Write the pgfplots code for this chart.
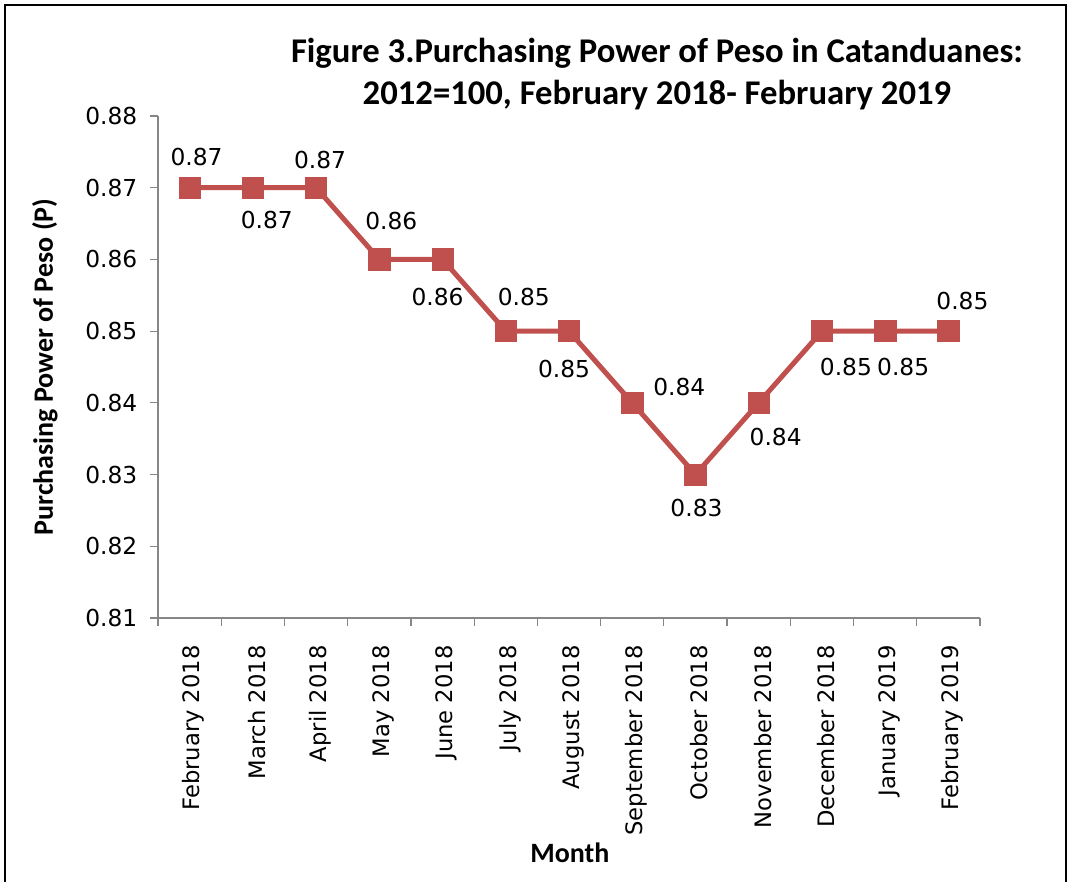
\documentclass[border=0pt]{standalone}
\usepackage{pgfplots}
\pgfplotsset{compat=1.18}
\usepackage{pgfplotstable}
\usepackage{fontspec}
\setmainfont{DejaVu Sans}
\newfontfamily\titlefont{Carlito}
\definecolor{pred}{HTML}{C0504D}
\definecolor{axgray}{HTML}{868686}

\pgfplotstableread{
x y lab dx dy
0 0.87 0.87 7 31
1 0.87 0.87 14 -32
2 0.87 0.87 4 28
3 0.86 0.86 12 38
4 0.86 0.86 -5 -38
5 0.85 0.85 18 34
6 0.85 0.85 -5 -38
7 0.84 0.84 47 16
8 0.83 0.83 1 -33
9 0.84 0.84 17 -34
10 0.85 0.85 24 -36
11 0.85 0.85 18 -36
12 0.85 0.85 14 30
}\data

\begin{document}
\begin{tikzpicture}
\useasboundingbox (0,0) rectangle (801.75pt,661.5pt);
\draw[black, line width=0.8pt] (3.75pt,0) -- (3.75pt,657.75pt) -- (799.5pt,657.75pt) -- (799.5pt,0);
\begin{axis}[
  at={(118.5pt,198pt)}, anchor=south west,
  scale only axis, width=616.5pt, height=376.5pt,
  clip=false,
  xmin=-0.5, xmax=12.5, ymin=0.81, ymax=0.88,
  axis x line*=bottom, axis y line*=left,
  axis line style={axgray, line width=0.9pt},
  xtick={0,...,12},
  xticklabels={February 2018,March 2018,April 2018,May 2018,June 2018,July 2018,August 2018,September 2018,October 2018,November 2018,December 2018,January 2019,February 2019},
  major x tick style={draw=none},
  minor xtick={-0.5,0.5,...,12.5},
  minor tick length=6pt,
  minor x tick style={axgray, line width=0.9pt},
  ytick={0.81,0.82,...,0.88},
  yticklabels={0.81,0.82,0.83,0.84,0.85,0.86,0.87,0.88},
  major tick length=6pt,
  tick align=outside,
  y tick style={axgray, line width=0.9pt},
  xticklabel style={rotate=90, anchor=east, font=\fontsize{17}{20}\selectfont, xshift=-11pt, yshift=-3pt},
  yticklabel style={font=\fontsize{17.5}{20}\selectfont, xshift=-6pt},
  xlabel={Month},
  xlabel style={at={(axis description cs:0.501,-0.468)}, anchor=center, font=\titlefont\bfseries\fontsize{21}{24}\selectfont},
  ylabel={Purchasing Power of Peso (P)},
  ylabel style={at={(axis description cs:-0.1375,0.5)}, anchor=center, font=\titlefont\bfseries\fontsize{21}{24}\selectfont},
  title={Figure 3.Purchasing Power of Peso in Catanduanes:\\2012=100, February 2018- February 2019},
  title style={at={(axis description cs:0.607,1.0677)}, anchor=center, align=center, font=\titlefont\bfseries\fontsize{26}{31}\selectfont},
]
\addplot[color=pred, line width=3.75pt, mark=square*, mark size=8pt,
  mark options={solid, line width=0.5pt, fill=pred},
  visualization depends on={\thisrow{dx} \as \dx},
  visualization depends on={\thisrow{dy} \as \dy},
  point meta=explicit symbolic,
  nodes near coords,
  nodes near coords style={anchor=center, text=black, font=\fontsize{17.5}{20}\selectfont, xshift=\dx*0.75pt, yshift=\dy*0.75pt},
] table[x=x, y=y, meta=lab] {\data};
\end{axis}
\end{tikzpicture}
\end{document}
